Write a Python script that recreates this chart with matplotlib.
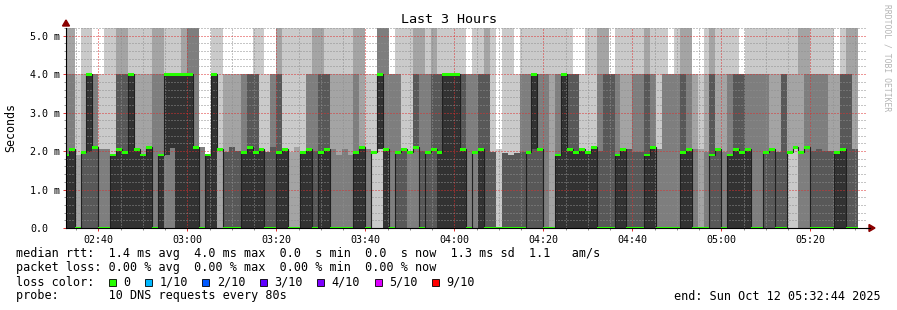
import numpy as np
import matplotlib
matplotlib.use("Agg")
import matplotlib.pyplot as plt
from matplotlib.patches import Polygon, Rectangle

W, H = 897, 310
MONO = "DejaVu Sans Mono"

# 10 DNS requests every 80 s, grouped by response time.
# per step: how many answered in ~0 ms, ~2 ms (rtt_mid), ~4 ms, rest above the graph top
n_zero = [5, 5, 8, 4, 4, 4, 7, 7, 5, 5, 5, 5, 5, 5, 5, 7, 5, 3, 3, 5,
          5, 5, 5, 7, 5, 5, 2, 6, 6, 6, 5, 5, 5, 5, 6, 6, 5, 5, 8, 8,
          5, 5, 6, 5, 5, 7, 7, 7, 7, 5, 5, 7, 1, 1, 5, 7, 4, 4, 3, 3,
          6, 4, 4, 5, 5, 5, 5, 5, 7, 3, 5, 6, 6, 9, 6, 6, 6, 6, 4, 4,
          4, 7, 8, 5, 5, 5, 5, 5, 5, 5, 6, 6, 6, 5, 5, 6, 6, 6, 5, 5,
          7, 7, 7, 7, 5, 5, 7, 8, 7, 4, 4, 7, 5, 5, 5, 5, 7, 7, 4, 4,
          6, 6, 1, 1, 3, 3, 6, 6, 6, 6, 5, 5, 6, 6]
n_mid = [2, 2, 1, 4, 1, 3, 2, 2, 4, 1, 1, 0, 3, 3, 3, 0, 2, 2, 2, 0,
         0, 0, 2, 3, 5, 0, 7, 2, 2, 2, 2, 1, 1, 4, 3, 1, 1, 4, 1, 1,
         4, 2, 1, 1, 1, 1, 1, 1, 1, 2, 3, 2, 8, 4, 2, 0, 3, 5, 6, 3,
         1, 3, 2, 1, 0, 0, 0, 1, 0, 4, 1, 0, 3, 1, 3, 3, 3, 1, 3, 1,
         3, 0, 0, 2, 0, 1, 1, 4, 4, 4, 1, 0, 0, 2, 3, 2, 1, 1, 1, 2,
         2, 0, 0, 0, 1, 2, 1, 1, 1, 2, 4, 1, 2, 1, 1, 2, 0, 0, 3, 4,
         2, 0, 7, 7, 5, 4, 1, 1, 1, 2, 3, 1, 0, 2]
n_four = [1, 1, 1, 1, 4, 3, 1, 0, 0, 2, 2, 4, 1, 1, 1, 1, 1, 4, 4, 4,
          3, 2, 0, 0, 0, 4, 0, 2, 2, 2, 3, 4, 3, 0, 1, 3, 2, 0, 0, 0,
          0, 2, 1, 2, 3, 1, 1, 1, 1, 1, 0, 1, 1, 2, 0, 3, 2, 0, 0, 2,
          1, 2, 2, 3, 4, 4, 4, 3, 3, 2, 3, 2, 0, 0, 0, 0, 1, 2, 2, 4,
          2, 2, 1, 2, 4, 3, 4, 1, 0, 0, 1, 2, 4, 2, 1, 1, 2, 2, 2, 2,
          0, 2, 3, 2, 2, 1, 2, 1, 1, 2, 1, 1, 2, 3, 4, 2, 2, 2, 2, 1,
          1, 3, 1, 1, 0, 1, 2, 2, 2, 1, 2, 3, 2, 0]
rtt_mid = [1.90, 2.05, 1.90, 1.97, 1.97, 2.10, 2.05, 2.05, 1.90, 2.05,
           1.97, 2.05, 2.05, 1.90, 2.10, 1.97, 1.90, 1.90, 2.08, 2.00,
           2.00, 2.00, 2.10, 2.10, 1.90, 1.90, 2.05, 1.97, 2.10, 2.00,
           1.97, 2.10, 1.97, 2.05, 1.97, 2.10, 1.97, 2.05, 1.97, 2.10,
           1.97, 2.05, 2.00, 1.97, 2.05, 2.05, 1.90, 2.05, 1.90, 1.97,
           2.10, 2.05, 1.97, 2.05, 2.05, 2.05, 1.97, 2.05, 1.97, 2.10,
           2.00, 1.97, 2.05, 1.97, 2.00, 2.00, 2.00, 2.05, 1.97, 1.97,
           2.05, 2.00, 1.97, 2.05, 1.95, 1.90, 1.95, 1.97, 1.97, 2.05,
           2.05, 2.05, 1.95, 1.90, 2.00, 2.05, 1.97, 2.05, 1.97, 2.10,
           2.00, 1.97, 1.97, 1.90, 2.05, 2.05, 1.97, 1.97, 1.90, 2.10,
           2.05, 1.97, 1.97, 1.97, 1.97, 2.05, 2.05, 2.05, 1.97, 1.90,
           2.05, 1.97, 1.90, 2.05, 1.97, 2.05, 1.97, 1.97, 1.97, 2.05,
           1.97, 2.00, 1.97, 2.10, 1.97, 2.10, 2.00, 2.05, 2.00, 2.00,
           1.97, 2.05, 2.05, 2.05]
rtt_four = 4.0
rtt_slow = 6.0
pings = 10

loss_labels = ["0", "1/10", "2/10", "3/10", "4/10", "5/10", "9/10"]
loss_colors = ["#26ff00", "#00b8ff", "#0059ff", "#5e00ff", "#7e00ff", "#dd00ff", "#ff0000"]

stat_lines = [
    "median rtt:  1.4 ms avg  4.0 ms max  0.0  s min  0.0  s now  1.3 ms sd  1.1   am/s",
    "packet loss: 0.00 % avg  0.00 % max  0.00 % min  0.00 % now",
]
probe_line = "probe:       10 DNS requests every 80s"
end_line = "end: Sun Oct 12 05:32:44 2025"

# time axis in minutes after midnight
step = 80 / 60
t_start = 2 * 60 + 32 + 44 / 60
t_end = t_start + 180
first_end = 2 * 60 + 33 + 20 / 60


def fx(px):
    return px / W


def fy(py):
    return 1 - py / H


rtt = np.array([[0.0] * a + [m] * b + [rtt_four] * c + [rtt_slow] * (pings - a - b - c)
                for a, b, c, m in zip(n_zero, n_mid, n_four, rtt_mid)])
n = len(rtt)
left = first_end - step + step * np.arange(n)
edges = np.append(left, left[-1] + step)
median = rtt[:, pings // 2]

fig = plt.figure(figsize=(W / 100, H / 100), dpi=100, facecolor="white")
ax = fig.add_axes([fx(66), fy(228), fx(867) - fx(66), fy(28) - fy(228)])
ax.set_facecolor("white")

# smoke, outer pings lightest
half = pings // 2
for i in range(1, half + 1):
    g = int(190 / half * (half - i)) + 50
    ax.bar(left, rtt[:, pings - i] - rtt[:, i - 1], bottom=rtt[:, i - 1], width=step,
           align="edge", color="#%02x%02x%02x" % (g, g, g), linewidth=0,
           antialiased=False, zorder=1)

# median
ax.stairs(median, edges, color="#202020", linewidth=0.8, baseline=None, zorder=3)
sw = 0.035
ax.bar(left, 2 * sw, bottom=median - sw, width=step, align="edge",
       color=loss_colors[0], linewidth=0, antialiased=False, zorder=4)

ax.set_xlim(t_start, t_end)
ax.set_ylim(0, 5.2)
major_x = np.arange(160, 331, 20)
ax.set_xticks(major_x)
ax.set_xticklabels(["%02d:%02d" % (m // 60, m % 60) for m in major_x],
                   fontfamily=MONO, fontsize=7.2)
ax.set_xticks(np.arange(155, 333, 5), minor=True)
ax.set_yticks(range(6))
ax.set_yticklabels(["0.0", "1.0 m", "2.0 m", "3.0 m", "4.0 m", "5.0 m"],
                   fontfamily=MONO, fontsize=7.2)
ax.set_yticks(np.arange(0, 5.21, 0.2), minor=True)
for lab in ax.get_yticklabels():
    lab.set_horizontalalignment("left")

ax.tick_params(axis="y", which="major", length=2.2, width=0.7, color="#de3030",
               pad=23.7, direction="out")
ax.tick_params(axis="y", which="minor", length=1.5, width=0.7, color="#8f8f8f",
               direction="out")
ax.tick_params(axis="x", which="major", length=2.2, width=0.7, color="#de3030",
               pad=2.5, direction="out")
ax.tick_params(axis="x", which="minor", length=1.5, width=0.7, color="#8f8f8f",
               direction="out")

ax.set_axisbelow(False)
ax.grid(which="minor", color=(0.56, 0.56, 0.56, 0.32), linewidth=0.72,
        linestyle=(0, (1, 2)))
ax.grid(which="major", color=(0.87, 0.19, 0.19, 0.38), linewidth=0.72,
        linestyle=(0, (1, 2)))

for s in ["top", "right"]:
    ax.spines[s].set_visible(False)
for s in ["left", "bottom"]:
    ax.spines[s].set_color("black")
    ax.spines[s].set_linewidth(0.8)
    ax.spines[s].set_zorder(5)

# axis arrows
arrow = "#8b0000"
fig.patches.append(Polygon([(fx(62.5), fy(26)), (fx(69.5), fy(26)), (fx(66), fy(20))],
                           closed=True, color=arrow, transform=fig.transFigure))
fig.add_artist(plt.Line2D([fx(866), fx(870)], [fy(228), fy(228)], color="black",
                          linewidth=0.8, transform=fig.transFigure))
fig.patches.append(Polygon([(fx(869), fy(224.5)), (fx(869), fy(231.5)), (fx(875), fy(228))],
                           closed=True, color=arrow, transform=fig.transFigure))

fig.text(fx(448.5), fy(19.5), "Last 3 Hours", ha="center", va="center",
         fontfamily=MONO, fontsize=9.6)
fig.text(fx(11), fy(127), "Seconds", rotation=90, ha="center", va="center",
         fontfamily=MONO, fontsize=8.4)
fig.text(fx(887), fy(4), "RRDTOOL / TOBI OETIKER", rotation=270, ha="center", va="top",
         fontfamily=MONO, fontsize=5.8, color="#b4b4b4")

# legend
pitch = 7.17
fs = 8.5
fig.text(fx(16), fy(254), stat_lines[0], ha="left", va="center", fontfamily=MONO, fontsize=fs)
fig.text(fx(16), fy(268), stat_lines[1], ha="left", va="center", fontfamily=MONO, fontsize=fs)
fig.text(fx(16), fy(282), "loss color:", ha="left", va="center", fontfamily=MONO, fontsize=fs)
pos = 13
for lab, col in zip(loss_labels, loss_colors):
    x0 = 16 + pos * pitch
    fig.patches.append(Rectangle((fx(x0), fy(285.5)), fx(7), fy(278.5) - fy(285.5),
                                 facecolor=col, edgecolor="black", linewidth=0.6,
                                 transform=fig.transFigure))
    fig.text(fx(x0 + 2 * pitch), fy(282), lab, ha="left", va="center",
             fontfamily=MONO, fontsize=fs)
    pos += 2 + len(lab) + 2
fig.text(fx(16), fy(296), probe_line, ha="left", va="center", fontfamily=MONO, fontsize=fs)
fig.text(fx(881), fy(296), end_line, ha="right", va="center", fontfamily=MONO, fontsize=fs)

fig.savefig("out.png", dpi=100, facecolor="white")
